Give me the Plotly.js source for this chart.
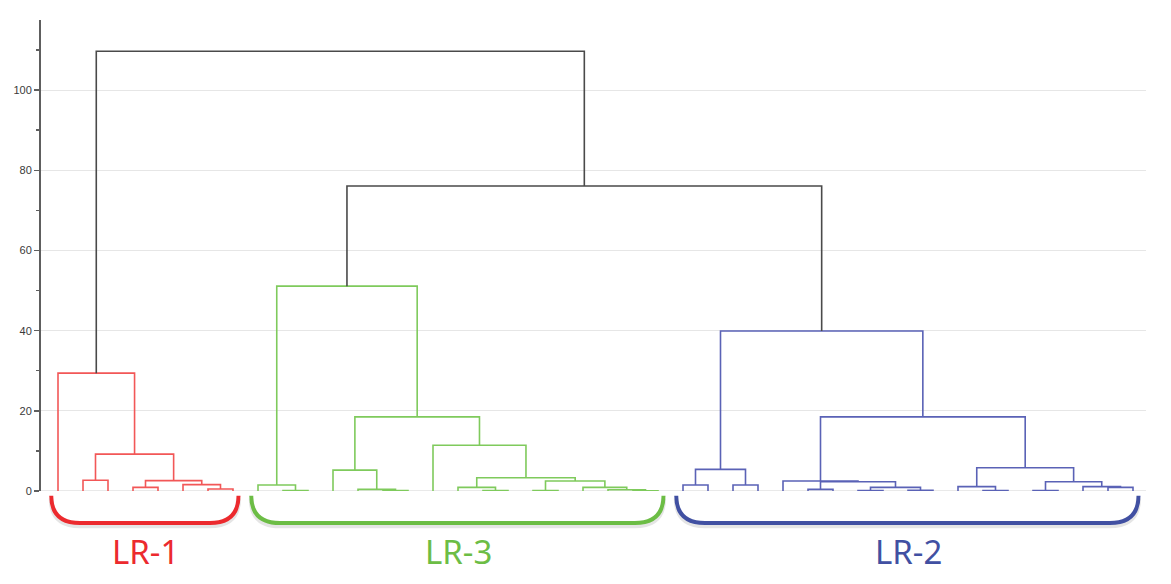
<!DOCTYPE html>
<html>
<head>
<meta charset="utf-8">
<script src="https://cdn.plot.ly/plotly-3.0.1.min.js"></script>
<style>
html,body{margin:0;padding:0;background:#fff;}
#chart{width:1171px;height:584px;}
</style>
</head>
<body>
<div id="chart"></div>
<script>
// ---- Data: hierarchical clustering (linkage table) ----
const leafCount = 44;
// each merge joins node linkLeft[k] and linkRight[k] at linkHeight[k]; new node id = leafCount + k
const linkLeft  = [6, 3, 5, 1, 45, 47, 0,
                   9, 8, 13, 12, 11, 17, 16, 19, 23, 22, 21, 58, 57, 15, 55, 52,
                   25, 27, 67, 30, 32, 34, 71, 70, 29, 37, 36, 39, 42, 41, 78, 77, 75, 69,
                   66, 50];
const linkRight = [7, 4, 44, 2, 46, 48, 49,
                   10, 51, 14, 53, 54, 18, 56, 20, 24, 59, 60, 61, 62, 63, 64, 65,
                   26, 28, 68, 31, 33, 35, 72, 73, 74, 38, 76, 40, 43, 79, 80, 81, 82, 83,
                   84, 85];
const linkHeight = [0.5, 0.9, 1.6, 2.7, 2.6, 9.2, 29.4,
                    0.1, 1.5, 0.1, 0.4, 5.2, 0.1, 0.9, 0.1, 0.05, 0.3, 0.9, 2.5, 3.3, 11.4, 18.5, 51.1,
                    1.5, 1.5, 5.4, 0.4, 0.1, 0.2, 0.9, 2.3, 2.5, 0.1, 1.1, 0.1, 0.9, 1.1, 2.3, 5.8, 18.5, 39.9,
                    76.1, 109.7];
const clusterNames     = ['LR-1', 'LR-3', 'LR-2'];
const clusterFirstLeaf = [0, 8, 25];
const clusterLastLeaf  = [7, 24, 43];
const yTickVals = [0, 20, 40, 60, 80, 100];

// ---- Styles ----
const lineColors  = ['#f25757', '#7fca5c', '#5a62b6'];
const labelColors = ['#ec2a2e', '#6cbd45', '#4150a2'];
const rootColor = '#4a4a4a';
const xMin = -0.68, xMax = 43.52;

// ---- Build the tree geometry ----
const nodeX = [], nodeH = [], nodeLo = [], nodeHi = [];
for (let i = 0; i < leafCount; i++) { nodeX.push(i); nodeH.push(0); nodeLo.push(i); nodeHi.push(i); }
const groups = {};
function addSeg(key, xs, ys) {
  if (!groups[key]) groups[key] = {x: [], y: []};
  groups[key].x.push(...xs, null);
  groups[key].y.push(...ys, null);
}
for (let k = 0; k < linkLeft.length; k++) {
  const a = linkLeft[k], b = linkRight[k], h = linkHeight[k];
  const lo = Math.min(nodeLo[a], nodeLo[b]), hi = Math.max(nodeHi[a], nodeHi[b]);
  let key = 'root';
  for (let c = 0; c < clusterNames.length; c++) {
    if (lo >= clusterFirstLeaf[c] && hi <= clusterLastLeaf[c]) key = 'c' + c;
  }
  addSeg(key, [nodeX[a], nodeX[a], nodeX[b], nodeX[b]], [nodeH[a], h, h, nodeH[b]]);
  nodeX.push((nodeX[a] + nodeX[b]) / 2); nodeH.push(h); nodeLo.push(lo); nodeHi.push(hi);
}

const traces = [];
Object.keys(groups).forEach(key => {
  const color = key === 'root' ? rootColor : lineColors[+key.slice(1)];
  traces.push({
    type: 'scatter', mode: 'lines', x: groups[key].x, y: groups[key].y,
    line: {color: color, width: 1.6}, hoverinfo: 'skip', showlegend: false,
    cliponaxis: false
  });
});

// ---- Brackets and labels under each cluster ----
const px = v => (v - xMin) / (xMax - xMin);
const shapes = [];
const annotations = [];
// baseline grid line at 0
shapes.push({type: 'line', xref: 'paper', yref: 'y', x0: 0, x1: 1, y0: 0, y1: 0,
             line: {color: '#e2e2e2', width: 1.5}, layer: 'below'});
const yTop = -0.010, yBot = -0.068, rx = 1.15;
for (let c = 0; c < clusterNames.length; c++) {
  const x0 = clusterFirstLeaf[c] - 0.27, x1 = clusterLastLeaf[c] + 0.22;
  const d = (dy) => `M ${px(x0)},${yTop + dy} Q ${px(x0)},${yBot + dy} ${px(x0 + rx)},${yBot + dy} L ${px(x1 - rx)},${yBot + dy} Q ${px(x1)},${yBot + dy} ${px(x1)},${yTop + dy}`;
  shapes.push({type: 'path', xref: 'paper', yref: 'paper', path: d(-0.006),
               line: {color: 'rgba(0,0,0,0.10)', width: 5}});
  shapes.push({type: 'path', xref: 'paper', yref: 'paper', path: d(0),
               line: {color: labelColors[c], width: 4}});
  annotations.push({
    xref: 'paper', yref: 'paper',
    x: px((clusterFirstLeaf[c] + clusterLastLeaf[c]) / 2), y: -0.128,
    xanchor: 'center', yanchor: 'middle', showarrow: false,
    text: clusterNames[c],
    font: {family: 'Noto Sans, sans-serif', size: 33, color: labelColors[c]}
  });
}

const layout = {
  width: 1171, height: 584,
  margin: {l: 41, r: 25, t: 20, b: 93},
  paper_bgcolor: '#ffffff', plot_bgcolor: '#ffffff',
  showlegend: false,
  xaxis: {range: [xMin, xMax], showgrid: false, zeroline: false, showline: false,
          showticklabels: false, ticks: '', fixedrange: true},
  yaxis: {range: [0, 117.5], tickvals: yTickVals, showgrid: true, gridcolor: '#e6e6e6', gridwidth: 1,
          zeroline: false, showline: true, linecolor: '#5e5e5e', linewidth: 2,
          ticks: 'outside', ticklen: 5, tickwidth: 1.5, tickcolor: '#5e5e5e',
          minor: {dtick: 10, tick0: 0, ticks: 'outside', ticklen: 3, tickwidth: 1.5, tickcolor: '#5e5e5e', showgrid: false},
          tickfont: {family: 'Liberation Sans, Arial, sans-serif', size: 11, color: '#3a3a3a'},
          fixedrange: true},
  shapes: shapes,
  annotations: annotations
};

Plotly.newPlot('chart', traces, layout, {displayModeBar: false, staticPlot: true});
</script>
</body>
</html>
